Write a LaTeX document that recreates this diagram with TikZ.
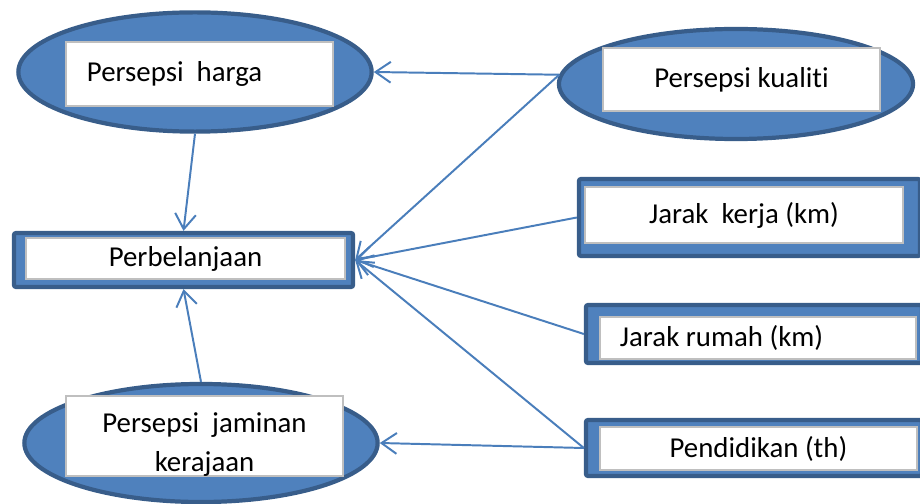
\documentclass[tikz,border=0pt]{standalone}
\usepackage{fontspec}
\setmainfont{Carlito}[Ligatures=NoCommon]
\usetikzlibrary{arrows.meta,shapes.geometric}
\definecolor{boxblue}{HTML}{4F81BD}
\definecolor{edgeblue}{HTML}{385D8A}
\definecolor{lineblue}{HTML}{4A7EBB}
\definecolor{rimgray}{HTML}{BFBFBF}
\begin{document}
\begin{tikzpicture}[x=0.025cm, y=-0.025cm,
		blueoval/.style={ellipse, fill=boxblue, draw=edgeblue, line width=3pt, inner sep=0pt},
		bluebox/.style={rectangle, fill=boxblue, draw=edgeblue, line width=3pt, rounded corners=1.5pt, inner sep=0pt},
		textbox/.style={rectangle, fill=white, draw=rimgray, line width=1.5pt, inner sep=0pt, font=\fontsize{20.5}{26}\selectfont},
		link/.style={draw=lineblue, line width=1.4pt, -{Straight Barb[length=3.8mm,width=5.2mm]}}]
				\useasboundingbox (0,0) rectangle (920,504);
				
				\node[blueoval, minimum width=8.83cm, minimum height=2.98cm] (harga) at (195,72) {};
				\node[textbox, minimum width=6.675cm, minimum height=1.6cm, text width=5.625cm,
					inner xsep=0.525cm, align=flush left] (hargaT) at (199.5,74) {Persepsi\ \ harga};
				
				\node[blueoval, minimum width=8.85cm, minimum height=2.75cm] (kualiti) at (736,84) {};
				\node[textbox, minimum width=6.925cm, minimum height=1.575cm] (kualitiT) at (741.5,79.5) {Persepsi kualiti};
				
				\node[bluebox, minimum width=8.475cm, minimum height=1.35cm] (perb) at (183.5,260) {};
				\node[textbox, minimum width=7.975cm, minimum height=1.025cm] (perbT) at (185.5,258.5) {Perbelanjaan};
				
				\node[bluebox, minimum width=8.525cm, minimum height=1.925cm] (kerja) at (749.5,217.5) {};
				\node[textbox, minimum width=7.95cm, minimum height=1.4cm] (kerjaT) at (744,215) {Jarak\ \ kerja (km)};
				
				\node[bluebox, minimum width=8.4cm, minimum height=1.45cm] (rumah) at (754,334) {};
				\node[textbox, minimum width=7.9cm, minimum height=1.05cm, text width=6.9cm,
					inner xsep=0.5cm, align=flush left] (rumahT) at (758,338) {Jarak rumah (km)};
				
				\node[bluebox, minimum width=8.4cm, minimum height=1.4cm] (pend) at (754,448) {};
				\node[textbox, minimum width=7.925cm, minimum height=1.075cm] (pendT) at (758.5,448.5) {Pendidikan (th)};
				
				\node[blueoval, minimum width=8.83cm, minimum height=2.95cm] (jaminan) at (201,443) {};
				\node[textbox, minimum width=6.925cm, minimum height=1.95cm, align=center,
					font=\fontsize{20.5}{27.5}\selectfont] (jaminanT) at (204.5,436)
					{\rule{0pt}{26pt}Persepsi\ \ jaminan\\kerajaan};
				
				\draw[link] (kualiti.177) -- (harga.east);
				\draw[link] (harga.south) -- (perb.north);
				\draw[link] (jaminan.north) -- (perb.south);
				\draw[link] (kualiti.177) -- (perb.east);
				\draw[link] (kerja.west) -- (perb.east);
				\draw[link] (rumah.west) -- (perb.east);
				\draw[link] (pend.west) -- (perb.east);
				\draw[link] (pend.west) -- (jaminan.east);
\end{tikzpicture}
\end{document}
